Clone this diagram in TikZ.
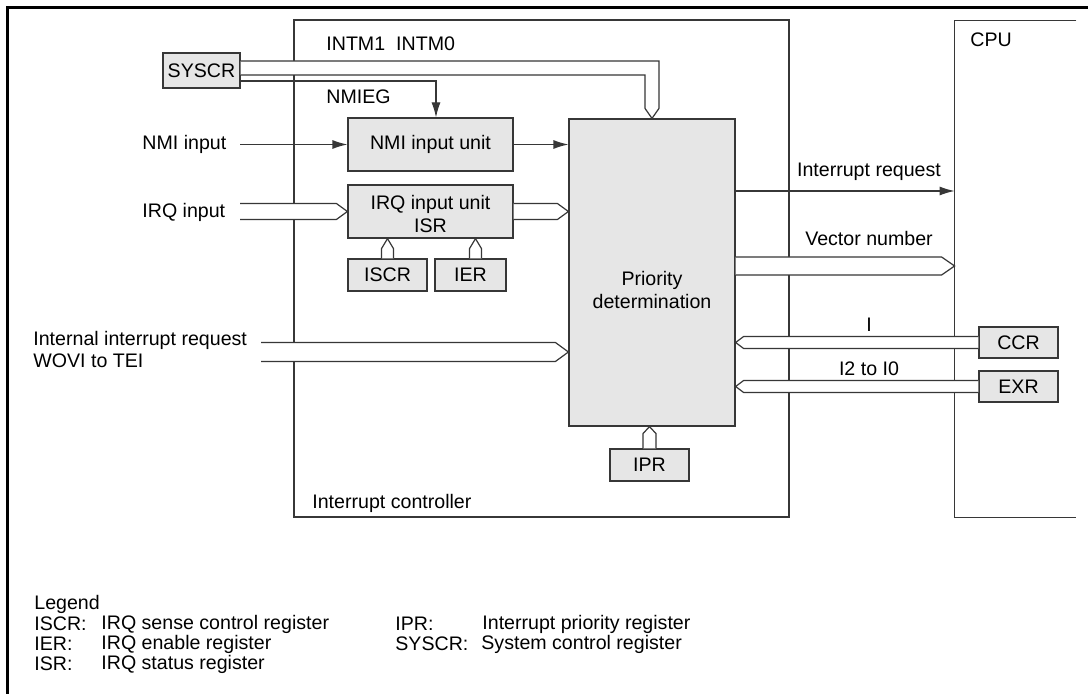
\documentclass[tikz,border=0pt]{standalone}
\usepackage{fontspec}
\setmainfont{Liberation Sans}
\usetikzlibrary{arrows.meta,fit,calc}
\definecolor{boxfill}{RGB}{230,230,230}
\definecolor{ln}{RGB}{55,55,55}
% bus pointing right: tail, tip, half width, head length
\newcommand\busR[4]{\path[bus] let \p1=(#1), \p2=(#2) in (\x1,{\y2+#3}) -- ({\x2-#4},{\y2+#3}) -- (\x2,\y2) -- ({\x2-#4},{\y2-#3}) -- (\x1,{\y2-#3});}
\newcommand\busL[4]{\path[bus] let \p1=(#1), \p2=(#2) in (\x1,{\y2+#3}) -- ({\x2+#4},{\y2+#3}) -- (\x2,\y2) -- ({\x2+#4},{\y2-#3}) -- (\x1,{\y2-#3});}
\newcommand\busU[4]{\path[bus] let \p1=(#1), \p2=(#2) in ({\x2-#3},\y1) -- ({\x2-#3},{\y2-#4}) -- (\x2,\y2) -- ({\x2+#3},{\y2-#4}) -- ({\x2+#3},\y1);}
\begin{document}
\begin{tikzpicture}[x=0.5pt,y=-0.5pt,
  every node/.style={font=\fontsize{9.8}{11.8}\selectfont, inner sep=0pt},
  regbox/.style={draw=ln, fill=boxfill, line width=0.6pt},
  frameline/.style={draw=ln, line width=0.6pt},
  bus/.style={draw=ln, fill=white, line width=0.6pt},
  arr/.style={draw=ln, line width=0.6pt, -{Latex[length=7.5pt,width=4.5pt]}},
  lbl/.style={anchor=west}]
\useasboundingbox (0,0) rectangle (1088,694);
\fill[white] (0,0) rectangle (1088,694);
% outer frame
\draw[line width=1.35pt] (7.3,694) -- (7.3,7.3) -- (1088,7.3);

% interrupt controller and CPU
\node[frameline, fit={(294,20) (789,517)}] (ctrl) {};
\node[fit={(955,21) (1076,517)}] (cpu) {};
\draw[frameline] (cpu.north east) -- (cpu.north west) -- (cpu.south west) -- (cpu.south east);
\node[lbl] at (312,503) {Interrupt controller};
\node[lbl] at (970,40) {CPU};

% registers and units
\node[regbox, fit={(163,53) (240,88)}] (sys) {};
\node at (sys.center) {SYSCR};
\node[regbox, fit={(348,118) (513,171)}] (nmi) {};
\node at (nmi.center) {NMI input unit};
\node[regbox, fit={(348,185) (513,238)}] (irq) {};
\node[align=center] at (430.5,214) {IRQ input unit\\ISR};
\node[regbox, fit={(348,259) (427,291)}] (iscr) {};
\node at (iscr.center) {ISCR};
\node[regbox, fit={(435,259) (506,291)}] (ier) {};
\node at (ier.center) {IER};
\node[regbox, fit={(569,119) (735,426)}] (prio) {};
\node[align=center] at (652,290) {Priority\\determination};
\node[regbox, fit={(610,449) (689,481)}] (ipr) {};
\node at (ipr.center) {IPR};
\node[regbox, fit={(979,327) (1058,358)}] (ccr) {};
\node at (ccr.center) {CCR};
\node[regbox, fit={(979,371) (1058,402)}] (exr) {};
\node at (exr.center) {EXR};

% SYSCR connections
\path[bus] let \p1=(sys.east), \p2=(prio.north) in
  (\x1,{\y1+4.75pt}) -- ({\x2+3.5pt},{\y1+4.75pt}) -- ({\x2+3.5pt},{\y2+5pt}) -- (\x2,\y2)
  -- ({\x2-3.5pt},{\y2+5pt}) -- ({\x2-3.5pt},{\y1-2.25pt}) -- (\x1,{\y1-2.25pt});
\coordinate (nmieg) at (436,81);
\draw[arr] (sys.east |- nmieg) -- (nmieg) -- (nmieg |- nmi.north);
\node[lbl] at (326,44) {INTM1\hspace{5.5pt}INTM0};
\node[lbl] at (326,97) {NMIEG};

% inputs
\coordinate (nmiin) at (240,144.5);
\node[lbl] at (142,144) {NMI input};
\draw[arr] (nmiin) -- (nmiin -| nmi.west);
\draw[arr] (nmi.east) -- (nmi.east -| prio.west);

\coordinate (irqin) at (240,211.5);
\node[lbl] at (142,212) {IRQ input};
\busR{irqin}{irq.west}{4pt}{5.5pt}
\busR{irq.east}{irq.east -| prio.west}{4pt}{5.5pt}
\busU{iscr.north}{iscr.north |- irq.south}{3pt}{5pt}
\coordinate (iert) at ($(ier.north)+(5,0)$);
\busU{iert}{iert |- irq.south}{3pt}{5pt}

\coordinate (intin) at (261,352);
\node[lbl] at (33,340) {Internal interrupt request};
\node[lbl] at (33,361) {WOVI to TEI};
\busR{intin}{intin -| prio.west}{4.75pt}{6.5pt}

\busU{ipr.north}{ipr.north |- prio.south}{3.25pt}{3.5pt}

% outputs to CPU
\coordinate (yir) at (0,191);
\coordinate (yvec) at (0,266);
\draw[arr] (prio.east |- yir) -- (cpu.west |- yir);
\node at (869,172) {Interrupt request};
\busR{prio.east |- yvec}{cpu.west |- yvec}{4.5pt}{6.5pt}
\node at (869,238) {Vector number};

% from CPU registers
\busL{ccr.west}{ccr.west -| prio.east}{3pt}{4pt}
\node at (869,325) {I};
\busL{exr.west}{exr.west -| prio.east}{3pt}{4pt}
\node at (869,369) {I2 to I0};

% legend
\node[lbl] at (34,604) {Legend};
\node[lbl] at (34,624) {ISCR:};
\node[lbl] at (101,624) {IRQ sense control register};
\node[lbl] at (34,644) {IER:};
\node[lbl] at (101,644) {IRQ enable register};
\node[lbl] at (34,664) {ISR:};
\node[lbl] at (101,664) {IRQ status register};
\node[lbl] at (395,624) {IPR:};
\node[lbl] at (482,624) {Interrupt priority register};
\node[lbl] at (395,644) {SYSCR:};
\node[lbl] at (481,644) {System control register};
\end{tikzpicture}
\end{document}
